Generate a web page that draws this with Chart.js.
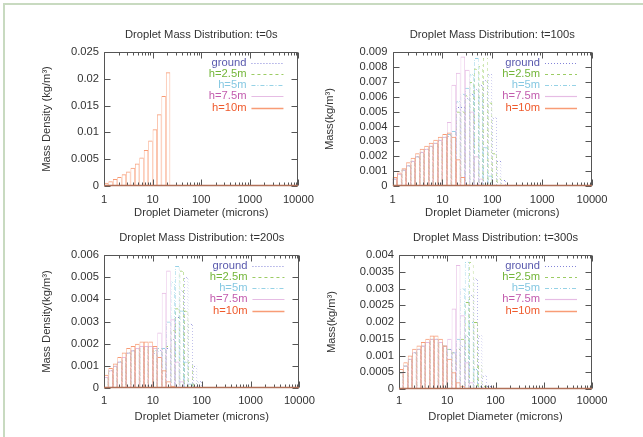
<!DOCTYPE html>
<html>
<head>
<meta charset="utf-8">
<title>Droplet Mass Distribution</title>
<script src="https://cdn.jsdelivr.net/npm/chart.js@4/dist/chart.umd.min.js"></script>
<style>
  html, body { margin: 0; padding: 0; background: #fff; }
  #wrap { position: relative; width: 643px; height: 437px; overflow: hidden; background: #fff; }
  #wrap .edge { position: absolute; left: 3px; top: 3px; width: 700px; height: 500px;
    border-top: 2px solid #c8dac0; border-left: 2px solid #c8dac0; }
  canvas { position: absolute; }
</style>
</head>
<body>
<div id="wrap">
  <div class="edge"></div>
  <canvas id="c0" width="321" height="226" style="left:0;top:0"></canvas>
  <canvas id="c1" width="322" height="226" style="left:321px;top:0"></canvas>
  <canvas id="c2" width="321" height="226" style="left:0;top:211px"></canvas>
  <canvas id="c3" width="322" height="226" style="left:321px;top:211px"></canvas>
</div>
<script>
// bin centres (microns), log spaced, 11 bins per decade starting at 1
const binDiameters = [1.110, 1.369, 1.688, 2.081, 2.565, 3.162, 3.899, 4.806, 5.926, 7.305,
  9.006, 11.10, 13.69, 16.88, 20.81, 25.65, 31.62, 38.99, 48.06, 59.26,
  73.05, 90.06, 111.0, 136.9, 168.8, 208.1];

const heights = ['ground', 'h=2.5m', 'h=5m', 'h=7.5m', 'h=10m'];

const xTicks = [1, 10, 100, 1000, 10000];

// t = 0s : everything still at the release height
const t0Ground = [];
const t0H25 = [];
const t0H5 = [];
const t0H75 = [];
const t0H10 = [0.0006, 0.0009, 0.0013, 0.0017, 0.0022, 0.0027, 0.0034, 0.0042, 0.0053, 0.0067,
  0.0085, 0.0106, 0.0134, 0.0168, 0.0212];
const yTicks0 = [0, 0.005, 0.01, 0.015, 0.02, 0.025];

// t = 100s
const t100Ground = [0.0005, 0.0008, 0.0011, 0.0014, 0.0017, 0.0020, 0.0023, 0.0025, 0.0027, 0.0029,
  0.0031, 0.0033, 0.0034, 0.0037, 0.0053, 0.0053, 0.0059, 0.0062, 0.0065, 0.0068,
  0.0071, 0.0075, 0.0046, 0.0017, 0.0004];
const t100H25 = [0.0005, 0.0008, 0.0011, 0.0014, 0.0017, 0.0020, 0.0023, 0.0025, 0.0027, 0.0029,
  0.0031, 0.0033, 0.0034, 0.0037, 0.0050, 0.0050, 0.0061, 0.0070, 0.0079, 0.0081,
  0.0086, 0.0056, 0.0022, 0.0005];
const t100H5 = [0.0005, 0.0008, 0.0011, 0.0014, 0.0017, 0.0020, 0.0023, 0.0025, 0.0027, 0.0029,
  0.0031, 0.0033, 0.0035, 0.0037, 0.0057, 0.0062, 0.0066, 0.0075, 0.0086, 0.0060,
  0.0026, 0.0007, 0.0001];
const t100H75 = [0.0005, 0.0008, 0.0011, 0.0014, 0.0017, 0.0020, 0.0023, 0.0025, 0.0027, 0.0029,
  0.0031, 0.0033, 0.0043, 0.0068, 0.0076, 0.0087, 0.0078, 0.0050, 0.0020, 0.0005];
const t100H10 = [0.0006, 0.0009, 0.0012, 0.0016, 0.0019, 0.0022, 0.0025, 0.0027, 0.0029, 0.0031,
  0.0033, 0.0035, 0.0036, 0.0033, 0.0018, 0.0006, 0.0001];
const yTicks100 = [0, 0.001, 0.002, 0.003, 0.004, 0.005, 0.006, 0.007, 0.008, 0.009];

// t = 200s
const t200Ground = [0.0005, 0.0008, 0.0010, 0.0012, 0.0014, 0.0016, 0.0017, 0.0018, 0.0019, 0.0019,
  0.0019, 0.0016, 0.0017, 0.0018, 0.0018, 0.0022, 0.0032, 0.0044, 0.0050, 0.0029,
  0.0010, 0.0003];
const t200H25 = [0.0005, 0.0008, 0.0010, 0.0012, 0.0014, 0.0016, 0.0017, 0.0018, 0.0019, 0.0019,
  0.0019, 0.0017, 0.0018, 0.0018, 0.0019, 0.0026, 0.0036, 0.0053, 0.0035, 0.0012,
  0.0002];
const t200H5 = [0.0005, 0.0008, 0.0010, 0.0012, 0.0014, 0.0016, 0.0017, 0.0018, 0.0019, 0.0019,
  0.0019, 0.0017, 0.0018, 0.0018, 0.0030, 0.0048, 0.0055, 0.0035, 0.0012, 0.0002];
const t200H75 = [0.0005, 0.0008, 0.0010, 0.0012, 0.0014, 0.0016, 0.0017, 0.0018, 0.0019, 0.0019,
  0.0019, 0.0018, 0.0025, 0.0043, 0.0053, 0.0031, 0.0012, 0.0003];
const t200H10 = [0.0006, 0.0009, 0.0011, 0.0014, 0.0016, 0.0018, 0.0019, 0.0020, 0.0021, 0.0021,
  0.0021, 0.0019, 0.0014, 0.0008, 0.0003, 0.0001];
const yTicks200 = [0, 0.001, 0.002, 0.003, 0.004, 0.005, 0.006];

// t = 300s
const t300Ground = [0.0005, 0.0007, 0.0009, 0.0011, 0.0012, 0.0013, 0.0014, 0.0015, 0.0015, 0.0014,
  0.0013, 0.0012, 0.0011, 0.0012, 0.0013, 0.0016, 0.0028, 0.0033, 0.0016, 0.0004,
  0.0001];
const t300H25 = [0.0005, 0.0007, 0.0009, 0.0011, 0.0012, 0.0013, 0.0014, 0.0015, 0.0015, 0.0014,
  0.0013, 0.0012, 0.0011, 0.0012, 0.0015, 0.0026, 0.0038, 0.0020, 0.0007, 0.0001];
const t300H5 = [0.0005, 0.0007, 0.0009, 0.0011, 0.0012, 0.0013, 0.0014, 0.0015, 0.0015, 0.0014,
  0.0013, 0.0012, 0.0011, 0.0015, 0.0030, 0.0038, 0.0020, 0.0006, 0.0001];
const t300H75 = [0.0005, 0.0007, 0.0009, 0.0011, 0.0012, 0.0013, 0.0014, 0.0015, 0.0015, 0.0014,
  0.0013, 0.0015, 0.0024, 0.0037, 0.0022, 0.0008, 0.0002];
const t300H10 = [0.0006, 0.0008, 0.0010, 0.0012, 0.0013, 0.0014, 0.0015, 0.0016, 0.0016, 0.0015,
  0.0013, 0.0009, 0.0005, 0.0002, 0.0001];
const yTicks300 = [0, 0.0005, 0.001, 0.0015, 0.002, 0.0025, 0.003, 0.0035, 0.004];

// look of each height: line colour, legend text colour, dash kind
const lineColors = ['#8484d8', '#9ccc64', '#96d2e6', '#e6bce4', '#f89c76'];
const textColors = ['#5a5aae', '#74b63a', '#86c8e2', '#c25cae', '#ef5a2c'];
const dashKinds = ['dot', 'dash', 'dashdot', 'solid', 'solid'];
const legendDash = [[1, 2], [3, 3], [4, 2, 1, 2], [], []];

const FONT = '"Liberation Sans", Arial, Helvetica, sans-serif';
const FS = 11.2;
const LH = FS * 1.2;
Chart.defaults.font.family = FONT;
Chart.defaults.font.size = FS;
Chart.defaults.color = '#333';

// bar outlines can't be dashed, so use a diagonal pixel pattern as the border colour
function makeStroke(color, kind) {
  if (kind === 'solid') return color;
  const n = kind === 'dot' ? 3 : kind === 'dash' ? 6 : 8;
  const c = document.createElement('canvas');
  c.width = n; c.height = n;
  const g = c.getContext('2d');
  g.fillStyle = color;
  for (let y = 0; y < n; y++) {
    for (let x = 0; x < n; x++) {
      const k = ((x - y) % n + n) % n;
      let on;
      if (kind === 'dot') on = k === 0;
      else if (kind === 'dash') on = k < 3;
      else on = k < 4 || k === 5;
      if (on) g.fillRect(x, y, 1, 1);
    }
  }
  return g.createPattern(c, 'repeat');
}

const panels = [
  { id: 'c0', title: 'Droplet Mass Distribution: t=0s', yTitle: 'Mass Density (kg/m³)',
    series: [t0Ground, t0H25, t0H5, t0H75, t0H10], yTicks: yTicks0,
    w: 321, h: 226, area: { l: 104, t: 52, r: 303, b: 186 }, titleY: 35, yTitleX: 47, xLabelY: 199, xTitleY: 213 },
  { id: 'c1', title: 'Droplet Mass Distribution: t=100s', yTitle: 'Mass(kg/m³)',
    series: [t100Ground, t100H25, t100H5, t100H75, t100H10], yTicks: yTicks100,
    w: 322, h: 226, area: { l: 71.5, t: 52, r: 271, b: 186 }, titleY: 35, yTitleX: 9, xLabelY: 199, xTitleY: 213 },
  { id: 'c2', title: 'Droplet Mass Distribution: t=200s', yTitle: 'Mass Density(kg/m³)',
    series: [t200Ground, t200H25, t200H5, t200H75, t200H10], yTicks: yTicks200,
    w: 321, h: 226, area: { l: 104, t: 44, r: 303, b: 177 }, titleY: 27, yTitleX: 47, xLabelY: 189, xTitleY: 206 },
  { id: 'c3', title: 'Droplet Mass Distribution: t=300s', yTitle: 'Mass(kg/m³)',
    series: [t300Ground, t300H25, t300H5, t300H75, t300H10], yTicks: yTicks300,
    w: 322, h: 226, area: { l: 78, t: 44, r: 271, b: 178 }, titleY: 27, yTitleX: 10.7, xLabelY: 189, xTitleY: 205.7 }
];

// gnuplot style box: frame, inward ticks on all sides, legend inside top right
const gnuFrame = {
  id: 'gnuFrame',
  afterDatasetsDraw(chart) {
    const { ctx, chartArea: a, scales: { x, y } } = chart;
    const L = Math.round(a.left) + 0.5, R = Math.round(a.right) - 0.5;
    const T = Math.round(a.top) + 0.5, B = Math.round(a.bottom) - 0.5;
    ctx.save();
    ctx.lineWidth = 1;
    ctx.strokeStyle = '#555';
    ctx.beginPath();
    for (let d = 1; d <= 10000; d *= 10) {
      for (let m = 1; m < 10; m++) {
        const v = d * m;
        if (v > 10000) break;
        const px = Math.round(x.getPixelForValue(v)) + 0.5;
        const len = m === 1 ? 6 : 3;
        ctx.moveTo(px, B); ctx.lineTo(px, B - len);
        ctx.moveTo(px, T); ctx.lineTo(px, T + len);
      }
    }
    y.ticks.forEach(t => {
      const py = Math.round(y.getPixelForValue(t.value)) + 0.5;
      ctx.moveTo(L, py); ctx.lineTo(L + 6, py);
      ctx.moveTo(R, py); ctx.lineTo(R - 6, py);
    });
    ctx.stroke();
    ctx.beginPath();
    ctx.moveTo(L, B); ctx.lineTo(L, T); ctx.lineTo(R, T); ctx.lineTo(R, B);
    ctx.stroke();
    // zero-height boxes of the top series leave a warm line along the base
    ctx.strokeStyle = '#b07058';
    ctx.lineWidth = 1.5;
    ctx.beginPath();
    ctx.moveTo(L - 0.5, B); ctx.lineTo(R + 0.5, B);
    ctx.stroke();

    ctx.font = FS + 'px ' + FONT;
    ctx.textAlign = 'right';
    ctx.textBaseline = 'middle';
    chart.data.datasets.forEach((ds, i) => {
      const ry = a.top + 10.5 + i * 11.3;
      ctx.fillStyle = textColors[i];
      ctx.fillText(ds.label, a.right - 52, ry);
      ctx.strokeStyle = lineColors[i];
      ctx.lineWidth = i === 4 ? 1.5 : 1.2;
      ctx.setLineDash(legendDash[i]);
      ctx.beginPath();
      ctx.moveTo(a.right - 47, Math.round(ry) + 0.5);
      ctx.lineTo(a.right - 15, Math.round(ry) + 0.5);
      ctx.stroke();
      ctx.setLineDash([]);
    });
    ctx.restore();
  }
};

panels.forEach(p => {
  const canvas = document.getElementById(p.id);
  const datasets = heights.map((name, k) => ({
    label: name,
    data: p.series[k].map((v, i) => ({ x: binDiameters[i], y: v })),
    borderColor: makeStroke(lineColors[k], dashKinds[k]),
    backgroundColor: 'rgba(0,0,0,0)',
    borderWidth: { top: 1, left: 0.6, right: 0.6, bottom: 0 },
    grouped: false,
    categoryPercentage: 1,
    barPercentage: 1,
    inflateAmount: 0,
    order: 4 - k
  }));

  new Chart(canvas, {
    type: 'bar',
    data: { datasets },
    plugins: [gnuFrame],
    options: {
      responsive: false,
      animation: false,
      devicePixelRatio: 1,
      layout: { padding: { left: 0, top: 0, right: p.w - p.area.r, bottom: 0 } },
      plugins: {
        legend: { display: false },
        tooltip: { enabled: false },
        title: {
          display: true,
          text: p.title,
          fullSize: false,
          color: '#333',
          font: { size: FS, weight: 'normal' },
          padding: { top: p.titleY - LH / 2, bottom: p.area.t - p.titleY - LH / 2 }
        }
      },
      scales: {
        x: {
          type: 'logarithmic',
          min: 1,
          max: 10000,
          offset: false,
          grid: { display: false, drawTicks: false, offset: false },
          border: { display: false },
          afterBuildTicks: s => { s.ticks = xTicks.map(v => ({ value: v })); },
          afterFit: s => { s.height = p.h - p.area.b; },
          ticks: {
            autoSkip: false,
            maxRotation: 0,
            padding: p.xLabelY - p.area.b - 6,
            color: '#333',
            callback: v => String(v)
          },
          title: {
            display: true,
            text: 'Droplet Diameter (microns)',
            color: '#333',
            font: { size: FS },
            padding: { top: 0, bottom: p.h - p.xTitleY - LH / 2 }
          }
        },
        y: {
          type: 'linear',
          min: 0,
          max: p.yTicks[p.yTicks.length - 1],
          grid: { display: false, drawTicks: false },
          border: { display: false },
          afterBuildTicks: s => { s.ticks = p.yTicks.map(v => ({ value: v })); },
          afterFit: s => { s.width = p.area.l; },
          ticks: {
            autoSkip: false,
            padding: 5,
            color: '#333',
            callback: v => String(v)
          },
          title: {
            display: true,
            text: p.yTitle,
            color: '#333',
            font: { size: FS },
            padding: { top: p.yTitleX - LH / 2, bottom: 0 }
          }
        }
      }
    }
  });
});
</script>
</body>
</html>
